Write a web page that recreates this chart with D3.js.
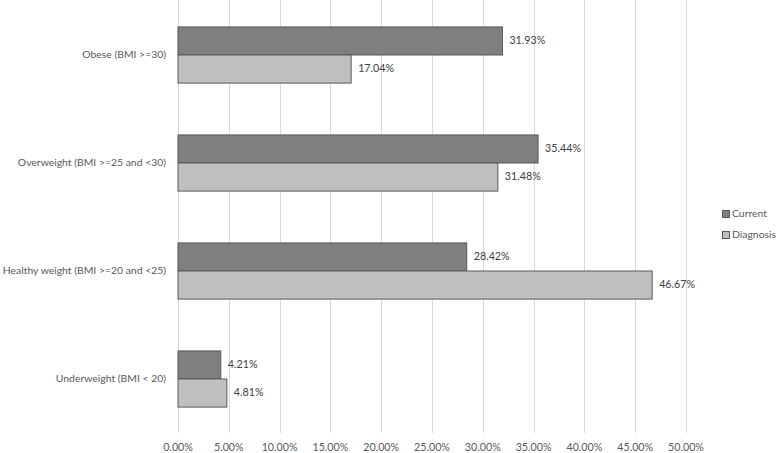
<!DOCTYPE html>
<html>
<head>
<meta charset="utf-8">
<script src="https://cdn.jsdelivr.net/npm/d3@7"></script>
<style>
  body { margin: 0; background: #fff; }
  svg text { font-family: Lato, "Liberation Sans", sans-serif; }
</style>
</head>
<body>
<div id="chart"></div>
<script>
// ===== DATA =====
const categories = [
  "Obese (BMI >=30)",
  "Overweight (BMI >=25 and <30)",
  "Healthy weight (BMI >=20 and <25)",
  "Underweight (BMI < 20)"
];
const seriesNames = ["Current", "Diagnosis"];
const currentValues = [31.93, 35.44, 28.42, 4.21];
const diagnosisValues = [17.04, 31.48, 46.67, 4.81];
const xTicks = [0, 5, 10, 15, 20, 25, 30, 35, 40, 45, 50];

// ===== SIZE =====
const width = 778;
const height = 453;
const margin = { top: 1, right: 92, bottom: 20, left: 178 };
const innerW = 686 - margin.left;
const innerH = 432;

const colors = { Current: "#7f7f7f", Diagnosis: "#bfbfbf" };
const strokeCol = "#595959";

const svg = d3.select("#chart")
  .append("svg")
  .attr("width", width)
  .attr("height", height);

const g = svg.append("g")
  .attr("transform", `translate(${margin.left},${margin.top})`);

const x = d3.scaleLinear().domain([0, 50]).range([0, innerW]);

const y = d3.scaleBand()
  .domain(categories)
  .range([0, innerH])
  .paddingInner(0.48)
  .paddingOuter(0.24);

const ySub = d3.scaleBand()
  .domain(seriesNames)
  .range([0, y.bandwidth()]);

// gridlines
g.selectAll("line.grid")
  .data(xTicks)
  .join("line")
  .attr("class", "grid")
  .attr("x1", d => Math.round(x(d)) + 0.5)
  .attr("x2", d => Math.round(x(d)) + 0.5)
  .attr("y1", -1)
  .attr("y2", innerH)
  .attr("stroke", "#d9d9d9")
  .attr("stroke-width", 1);

// x tick labels
g.selectAll("text.xtick")
  .data(xTicks)
  .join("text")
  .attr("class", "xtick")
  .attr("x", d => x(d))
  .attr("y", innerH + 15)
  .attr("dominant-baseline", "middle")
  .attr("text-anchor", "middle")
  .style("font-size", "10.7px")
  .style("fill", "#595959")
  .text(d => d.toFixed(2) + "%");

// category labels
g.selectAll("text.cat")
  .data(categories)
  .join("text")
  .attr("class", "cat")
  .attr("x", -12)
  .attr("y", d => y(d) + y.bandwidth() / 2)
  .attr("dominant-baseline", "middle")
  .attr("text-anchor", "end")
  .style("font-size", "10.4px")
  .style("fill", "#595959")
  .text(d => d);

// bars
const rows = [];
categories.forEach((c, i) => {
  rows.push({ cat: c, series: "Current", value: currentValues[i] });
  rows.push({ cat: c, series: "Diagnosis", value: diagnosisValues[i] });
});

g.selectAll("rect.bar")
  .data(rows)
  .join("rect")
  .attr("class", "bar")
  .attr("x", x(0))
  .attr("y", d => y(d.cat) + ySub(d.series))
  .attr("width", d => x(d.value) - x(0))
  .attr("height", ySub.bandwidth())
  .attr("fill", d => colors[d.series])
  .attr("stroke", strokeCol)
  .attr("stroke-width", 1);

g.selectAll("text.val")
  .data(rows)
  .join("text")
  .attr("class", "val")
  .attr("x", d => x(d.value) + 7)
  .attr("y", d => y(d.cat) + ySub(d.series) + ySub.bandwidth() / 2)
  .attr("dominant-baseline", "middle")
  .style("font-size", "10.7px")
  .style("fill", "#404040")
  .text(d => d.value.toFixed(2) + "%");

// legend
const legend = svg.selectAll("g.legend")
  .data(seriesNames)
  .join("g")
  .attr("class", "legend")
  .attr("transform", (d, i) => `translate(722,${214 + i * 21})`);

legend.append("rect")
  .attr("x", 0.5)
  .attr("y", -3.5)
  .attr("width", 7)
  .attr("height", 7)
  .attr("fill", d => colors[d])
  .attr("stroke", strokeCol);

legend.append("text")
  .attr("x", 10)
  .attr("y", 0)
  .attr("dominant-baseline", "middle")
  .style("font-size", "10.4px")
  .style("fill", "#595959")
  .text(d => d);
</script>
</body>
</html>
